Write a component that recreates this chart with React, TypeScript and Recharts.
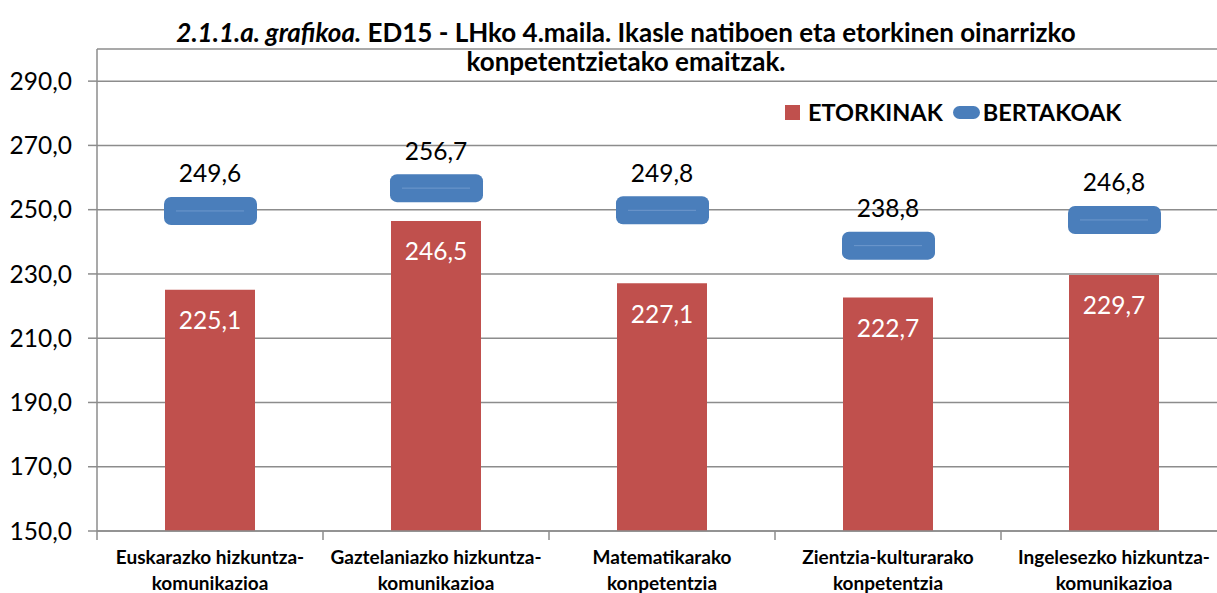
import React from "react";
import { ComposedChart, Bar, Line, XAxis, YAxis, CartesianGrid, LabelList } from "recharts";

const categories = [
  ["Euskarazko hizkuntza-", "komunikazioa"],
  ["Gaztelaniazko hizkuntza-", "komunikazioa"],
  ["Matematikarako", "konpetentzia"],
  ["Zientzia-kulturarako", "konpetentzia"],
  ["Ingelesezko hizkuntza-", "komunikazioa"],
];
const etorkinak = [225.1, 246.5, 227.1, 222.7, 229.7];
const bertakoak = [249.6, 256.7, 249.8, 238.8, 246.8];
const yTicks = [150, 170, 190, 210, 230, 250, 270, 290];

const RED = "#C0504D";
const BLUE = "#4A7EBB";
const GRID = "#8C8C8C";
const FONT = "Lato, 'Open Sans', sans-serif";

const fmt = (v: number) => v.toFixed(1).replace(".", ",");

const data = categories.map((lines, i) => ({
  name: lines.join(" "),
  lines,
  etorkinak: etorkinak[i],
  bertakoak: bertakoak[i],
}));

const XTick = (props: any) => {
  const { x, y, payload, index } = props;
  const off = payload.offset ?? 113;
  const lines = categories[payload.index ?? index] || [];
  return (
    <g>
      <line x1={x - off} x2={x - off} y1={y} y2={y + 9} stroke={GRID} strokeWidth={1.5} />
      {lines.map((l, k) => (
        <text
          key={k}
          x={x}
          y={y + 25 + k * 26}
          textAnchor="middle"
          dominantBaseline="central"
          fontFamily={FONT}
          fontWeight={700}
          fontSize={19}
          fill="#000"
        >
          {l}
        </text>
      ))}
    </g>
  );
};

const Marker = (props: any) => {
  const { cx, cy, index } = props;
  if (cx == null || cy == null) return <g key={`m-${index}`} />;
  return (
    <g key={`m-${index}`}>
      <rect x={cx - 46} y={cy - 14} width={93} height={28} rx={7} ry={7} fill={BLUE} />
      <line x1={cx - 34} x2={cx + 34} y1={cy} y2={cy} stroke="#6E98CC" strokeWidth={1} />
    </g>
  );
};

const BarLabel = (props: any) => {
  const { x, y, width, value } = props;
  return (
    <text
      x={x + width / 2}
      y={y + 30}
      textAnchor="middle"
      dominantBaseline="central"
      fontFamily={FONT}
      fontSize={24.5}
      fill="#fff"
    >
      {fmt(value)}
    </text>
  );
};

const LineLabel = (props: any) => {
  const { x, y, value } = props;
  return (
    <text
      x={x}
      y={y - 38}
      textAnchor="middle"
      dominantBaseline="central"
      fontFamily={FONT}
      fontSize={24.5}
      fill="#000"
    >
      {fmt(value)}
    </text>
  );
};

export default function App() {
  return (
    <div style={{ position: "absolute", left: 0, top: 0, width: 1217, height: 593, overflow: "hidden", background: "#fff" }}>
      <div
        style={{
          position: "absolute",
          left: 0,
          top: 18,
          width: 1252,
          textAlign: "center",
          fontFamily: FONT,
          fontWeight: 700,
          fontSize: 26,
          lineHeight: "29px",
          color: "#000",
          zIndex: 2,
        }}
      >
        <i>2.1.1.a. grafikoa.</i> ED15 - LHko 4.maila. Ikasle natiboen eta etorkinen oinarrizko
        <br />
        konpetentzietako emaitzak.
      </div>
      <div
        style={{
          position: "absolute",
          left: 785,
          top: 97,
          height: 30,
          display: "flex",
          alignItems: "center",
          fontFamily: FONT,
          fontWeight: 700,
          fontSize: 23.5,
          color: "#000",
          zIndex: 2,
        }}
      >
        <span style={{ width: 15, height: 15, background: RED, display: "inline-block", marginRight: 8 }} />
        <span>ETORKINAK</span>
        <span
          style={{ width: 27, height: 13, background: BLUE, borderRadius: 7, display: "inline-block", marginLeft: 10, marginRight: 3 }}
        />
        <span>BERTAKOAK</span>
      </div>
      <ComposedChart
        width={1240}
        height={593}
        data={data}
        margin={{ top: 49, right: 13, bottom: 0, left: 0 }}
        barSize={90}
      >
        <CartesianGrid vertical={false} stroke={GRID} strokeWidth={1.5} />
        <XAxis
          dataKey="name"
          height={62}
          axisLine={{ stroke: GRID, strokeWidth: 1.5 }}
          tickLine={false}
          tickSize={0}
          tickMargin={0}
          interval={0}
          tick={<XTick />}
        />
        <YAxis
          width={97}
          domain={[150, 300]}
          ticks={yTicks}
          allowDataOverflow
          axisLine={{ stroke: GRID, strokeWidth: 1.5 }}
          tickLine={{ stroke: GRID, strokeWidth: 1.5 }}
          tickSize={9}
          tickMargin={16}
          tickFormatter={fmt}
          tick={{ fontFamily: FONT, fontSize: 24.5, fill: "#000" }}
        />
        <Bar dataKey="etorkinak" fill={RED} isAnimationActive={false}>
          <LabelList dataKey="etorkinak" content={<BarLabel />} />
        </Bar>
        <Line
          dataKey="bertakoak"
          stroke="none"
          dot={(p: any) => <Marker key={`m-${p.index}`} {...p} />}
          activeDot={false}
          isAnimationActive={false}
        >
          <LabelList dataKey="bertakoak" content={<LineLabel />} />
        </Line>
      </ComposedChart>
    </div>
  );
}
